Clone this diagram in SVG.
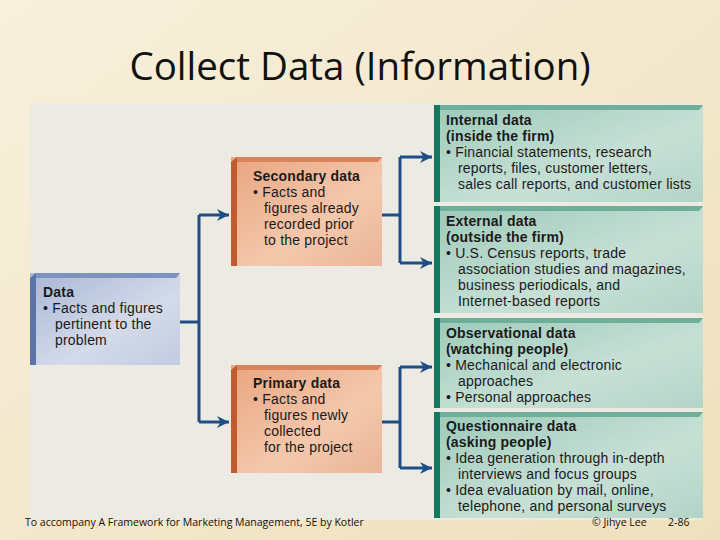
<svg xmlns="http://www.w3.org/2000/svg" width="720" height="540" viewBox="0 0 720 540">
<defs>
<linearGradient id="bg" x1="0" y1="0" x2="1" y2="1"><stop offset="0" stop-color="#f8f0dc"/><stop offset="1" stop-color="#efe0bd"/></linearGradient>
<linearGradient id="blue" x1="0" y1="0" x2="1" y2="1"><stop offset="0" stop-color="#a9b7d6"/><stop offset="0.6" stop-color="#d3dae9"/><stop offset="1" stop-color="#c2cce0"/></linearGradient>
<linearGradient id="peach" x1="0" y1="0" x2="1" y2="1"><stop offset="0" stop-color="#e8a57f"/><stop offset="0.6" stop-color="#f4c8ad"/><stop offset="1" stop-color="#eab597"/></linearGradient>
<linearGradient id="teal" x1="0" y1="0" x2="1" y2="1"><stop offset="0" stop-color="#9ccab9"/><stop offset="0.6" stop-color="#c7e0d6"/><stop offset="1" stop-color="#b4d4c8"/></linearGradient>
<marker id="ah" viewBox="0 0 10 10" refX="10" refY="5" markerWidth="4" markerHeight="4" orient="auto" markerUnits="strokeWidth"><path d="M0,0 L10,5 L0,10 L3,5 z" fill="#1d4f86"/></marker>
<style>
.t{font-family:"Liberation Sans",Arial,sans-serif;font-size:14px;fill:#1a1a1a;letter-spacing:0.2px}
.b{font-weight:bold}
.c{fill:none;stroke:#1d4f86;stroke-width:3}
</style>
</defs>
<rect width="720" height="540" fill="url(#bg)"/>
<text x="360" y="80" text-anchor="middle" font-family="'Open Sans',sans-serif" font-size="38.5" fill="#111">Collect Data (Information)</text>
<rect x="30" y="103" width="672" height="417" fill="#ecebe3"/>
<g id="connectors">
<path class="c" d="M180,322 H199 M199,215 V422" />
<path class="c" d="M199,215 H229" marker-end="url(#ah)"/>
<path class="c" d="M199,422 H229" marker-end="url(#ah)"/>
<path class="c" d="M382,215 H400 M400,157 V263"/>
<path class="c" d="M400,157 H432" marker-end="url(#ah)"/>
<path class="c" d="M400,263 H432" marker-end="url(#ah)"/>
<path class="c" d="M382,422 H400 M400,367 V468"/>
<path class="c" d="M400,367 H432" marker-end="url(#ah)"/>
<path class="c" d="M400,468 H432" marker-end="url(#ah)"/>
</g>
<g id="data">
<rect x="30" y="273" width="150" height="92" fill="url(#blue)"/>
<path d="M30,278 L36,273 V365 H30 z" fill="#5a74a8"/>
<path d="M36,273 H180 L176,278 H36 z" fill="#7f92bd"/>
<text class="t" x="43" y="297"><tspan class="b">Data</tspan><tspan x="43" dy="16">• Facts and figures</tspan><tspan x="55" dy="16">pertinent to the</tspan><tspan x="55" dy="16">problem</tspan></text>
</g>
<g id="secondary">
<rect x="231" y="157" width="151" height="109" fill="url(#peach)"/>
<path d="M231,162 L237,157 V266 H231 z" fill="#c25a30"/>
<path d="M237,157 H382 L378,162 H237 z" fill="#d9845c"/>
<text class="t" x="253" y="181"><tspan class="b">Secondary data</tspan><tspan x="253" dy="16">• Facts and</tspan><tspan x="264" dy="16">figures already</tspan><tspan x="264" dy="16">recorded prior</tspan><tspan x="264" dy="16">to the project</tspan></text>
</g>
<g id="primary">
<rect x="231" y="365" width="151" height="108" fill="url(#peach)"/>
<path d="M231,370 L237,365 V473 H231 z" fill="#c25a30"/>
<path d="M237,365 H382 L378,370 H237 z" fill="#d9845c"/>
<text class="t" x="253" y="388"><tspan class="b">Primary data</tspan><tspan x="253" dy="16">• Facts and</tspan><tspan x="264" dy="16">figures newly</tspan><tspan x="264" dy="16">collected</tspan><tspan x="264" dy="16">for the project</tspan></text>
</g>
<g id="internal">
<rect x="434" y="105" width="269" height="97" fill="url(#teal)"/>
<path d="M434,105 H440 V202 H434 z" fill="#137a60"/>
<path d="M440,105 H703 L699,110 H440 z" fill="#6fae98"/>
<text class="t" x="446" y="125"><tspan class="b">Internal data</tspan><tspan class="b" x="446" dy="16">(inside the firm)</tspan><tspan x="446" dy="16">• Financial statements, research</tspan><tspan x="458" dy="16">reports, files, customer letters,</tspan><tspan x="458" dy="16">sales call reports, and customer lists</tspan></text>
</g>
<g id="external">
<rect x="434" y="206" width="269" height="107" fill="url(#teal)"/>
<path d="M434,206 H440 V313 H434 z" fill="#137a60"/>
<path d="M440,206 H703 L699,211 H440 z" fill="#6fae98"/>
<text class="t" x="446" y="226"><tspan class="b">External data</tspan><tspan class="b" x="446" dy="16">(outside the firm)</tspan><tspan x="446" dy="16">• U.S. Census reports, trade</tspan><tspan x="458" dy="16">association studies and magazines,</tspan><tspan x="458" dy="16">business periodicals, and</tspan><tspan x="458" dy="16">Internet-based reports</tspan></text>
</g>
<g id="observational">
<rect x="434" y="318" width="269" height="90" fill="url(#teal)"/>
<path d="M434,318 H440 V408 H434 z" fill="#137a60"/>
<path d="M440,318 H703 L699,323 H440 z" fill="#6fae98"/>
<text class="t" x="446" y="338"><tspan class="b">Observational data</tspan><tspan class="b" x="446" dy="16">(watching people)</tspan><tspan x="446" dy="16">• Mechanical and electronic</tspan><tspan x="458" dy="16">approaches</tspan><tspan x="446" dy="16">• Personal approaches</tspan></text>
</g>
<g id="questionnaire">
<rect x="434" y="412" width="269" height="106" fill="url(#teal)"/>
<path d="M434,412 H440 V518 H434 z" fill="#137a60"/>
<path d="M440,412 H703 L699,417 H440 z" fill="#6fae98"/>
<text class="t" x="446" y="431"><tspan class="b">Questionnaire data</tspan><tspan class="b" x="446" dy="16">(asking people)</tspan><tspan x="446" dy="16">• Idea generation through in-depth</tspan><tspan x="458" dy="16">interviews and focus groups</tspan><tspan x="446" dy="16">• Idea evaluation by mail, online,</tspan><tspan x="458" dy="16">telephone, and personal surveys</tspan></text>
</g>
<text x="25" y="526" font-family="'Open Sans',sans-serif" font-size="10.5" fill="#111">To accompany A Framework for Marketing Management, 5E by Kotler</text>
<text x="592" y="526" font-family="'Open Sans',sans-serif" font-size="10.5" fill="#111">© Jihye Lee</text>
<text x="668" y="526" font-family="'Open Sans',sans-serif" font-size="10.5" fill="#111">2-86</text>
</svg>
